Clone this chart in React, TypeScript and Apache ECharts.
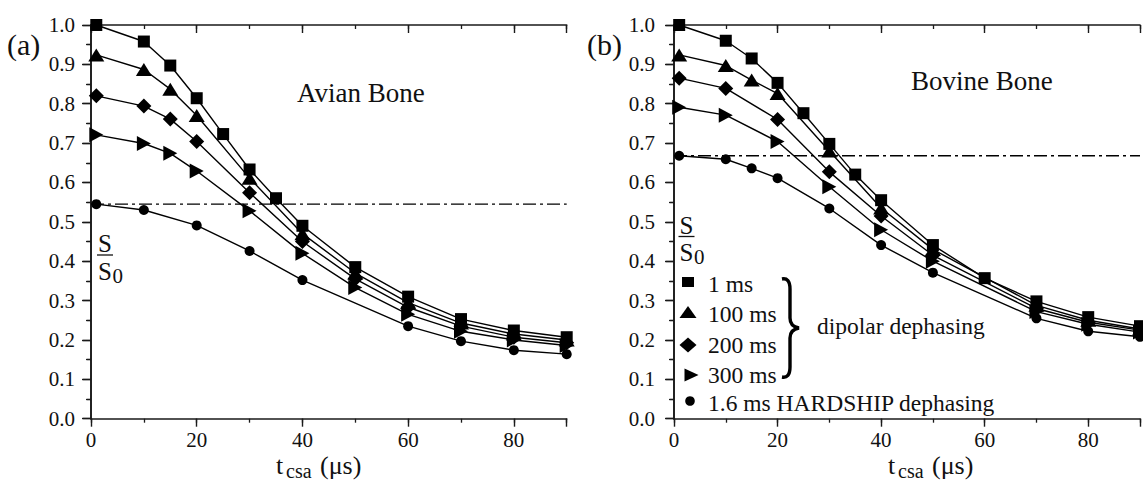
import React, { useEffect, useRef } from "react";
import * as echarts from "echarts";

// ---------- Data ----------
// Panel (a) Avian Bone
const aSqX = [1, 10, 15, 20, 25, 30, 35, 40, 50, 60, 70, 80, 90];
const aSqY = [1.0, 0.958, 0.897, 0.814, 0.723, 0.633, 0.56, 0.49, 0.385, 0.31, 0.253, 0.224, 0.207];
const aTriX = [1, 10, 15, 20, 30, 40, 50, 60, 70, 80, 90];
const aTriY = [0.924, 0.887, 0.837, 0.77, 0.611, 0.47, 0.37, 0.295, 0.243, 0.215, 0.2];
const aDiaX = [1, 10, 15, 20, 30, 40, 50, 60, 70, 80, 90];
const aDiaY = [0.82, 0.794, 0.761, 0.704, 0.574, 0.45, 0.355, 0.283, 0.235, 0.207, 0.193];
const aRtX = [1, 10, 15, 20, 30, 40, 50, 60, 70, 80, 90];
const aRtY = [0.721, 0.699, 0.674, 0.629, 0.528, 0.42, 0.333, 0.265, 0.222, 0.2, 0.186];
const aCirX = [1, 10, 20, 30, 40, 60, 70, 80, 90];
const aCirY = [0.545, 0.53, 0.491, 0.426, 0.352, 0.235, 0.197, 0.174, 0.164];
const aRefLevel = 0.545;

// Panel (b) Bovine Bone
const bSqX = [1, 10, 15, 20, 25, 30, 35, 40, 50, 60, 70, 80, 90];
const bSqY = [1.0, 0.96, 0.915, 0.853, 0.776, 0.698, 0.62, 0.555, 0.441, 0.357, 0.298, 0.258, 0.235];
const bTriX = [1, 10, 15, 20, 30, 40, 50, 70, 80, 90];
const bTriY = [0.924, 0.897, 0.86, 0.826, 0.68, 0.535, 0.43, 0.288, 0.25, 0.228];
const bDiaX = [1, 10, 20, 30, 40, 50, 70, 80, 90];
const bDiaY = [0.865, 0.839, 0.76, 0.627, 0.515, 0.415, 0.28, 0.245, 0.225];
const bRtX = [1, 10, 20, 30, 40, 50, 70, 80, 90];
const bRtY = [0.791, 0.771, 0.704, 0.589, 0.48, 0.4, 0.272, 0.24, 0.22];
const bCirX = [1, 10, 15, 20, 30, 40, 50, 70, 80, 90];
const bCirY = [0.668, 0.659, 0.636, 0.611, 0.534, 0.441, 0.371, 0.255, 0.222, 0.208];
const bRefLevel = 0.668;

const xTickLabels = [0, 20, 40, 60, 80];
const legendLabels = ["1 ms", "100 ms", "200 ms", "300 ms", "1.6 ms HARDSHIP dephasing"];

// ---------- Helpers ----------
const FONT = "Liberation Serif";
const INK = "#111";

const pairs = (xs: number[], ys: number[]) => xs.map((x, i) => [x, ys[i]]);

const markerStyles = {
  sq: { symbol: "rect", symbolSize: [12, 12], symbolRotate: 0 },
  tri: { symbol: "triangle", symbolSize: [16, 13], symbolRotate: 0 },
  dia: { symbol: "diamond", symbolSize: [15, 15], symbolRotate: 0 },
  rt: { symbol: "triangle", symbolSize: [15, 14], symbolRotate: -90 },
  cir: { symbol: "circle", symbolSize: 10, symbolRotate: 0 },
};

function lineSeries(xs: number[], ys: number[], kind: keyof typeof markerStyles, xi: number, yi: number) {
  const m = markerStyles[kind];
  return {
    type: "line",
    xAxisIndex: xi,
    yAxisIndex: yi,
    data: pairs(xs, ys),
    symbol: m.symbol,
    symbolSize: m.symbolSize,
    symbolRotate: m.symbolRotate,
    showSymbol: true,
    clip: false,
    itemStyle: { color: "#000" },
    lineStyle: { color: "#000", width: 1.4 },
    z: 3,
  };
}

function refSeries(level: number, xi: number, yi: number) {
  return {
    type: "line",
    xAxisIndex: xi,
    yAxisIndex: yi,
    data: [
      [0, level],
      [90, level],
    ],
    symbol: "none",
    lineStyle: { color: "#000", width: 1.4, type: [13, 4, 3, 4] },
    z: 2,
  };
}

const axisLine = { show: true, lineStyle: { color: "#1a1a1a", width: 1.6 } };

function xAxes(gridIndex: number) {
  const base = { type: "value", gridIndex, min: 0, max: 90, splitLine: { show: false } };
  return [
    {
      ...base,
      position: "bottom",
      interval: 20,
      axisLine,
      axisTick: { show: true, inside: false, length: 8, lineStyle: { color: "#1a1a1a", width: 1.4 } },
      axisLabel: {
        show: true,
        margin: 11,
        fontFamily: FONT,
        fontSize: 21,
        color: INK,
        formatter: (v: number) => (xTickLabels.includes(v) ? String(v) : ""),
      },
    },
    {
      ...base,
      position: "bottom",
      interval: 10,
      axisLine: { show: false },
      axisTick: { show: true, inside: false, length: 4, lineStyle: { color: "#1a1a1a", width: 1.3 } },
      axisLabel: { show: false },
    },
    {
      ...base,
      position: "top",
      interval: 20,
      axisLine,
      axisTick: { show: true, inside: true, length: 8, lineStyle: { color: "#1a1a1a", width: 1.4 } },
      axisLabel: { show: false },
    },
    {
      ...base,
      position: "top",
      interval: 10,
      axisLine: { show: false },
      axisTick: { show: true, inside: true, length: 4, lineStyle: { color: "#1a1a1a", width: 1.3 } },
      axisLabel: { show: false },
    },
  ];
}

function yAxes(gridIndex: number, labelMargin: number) {
  const base = { type: "value", gridIndex, min: 0, max: 1, interval: 0.1, splitLine: { show: false } };
  return [
    {
      ...base,
      position: "left",
      axisLine,
      axisTick: { show: true, inside: false, length: 9, lineStyle: { color: "#1a1a1a", width: 1.4 } },
      minorTick: { show: true, splitNumber: 2, length: 5, lineStyle: { color: "#1a1a1a", width: 1.3 } },
      axisLabel: {
        show: true,
        margin: labelMargin,
        fontFamily: FONT,
        fontSize: 21,
        color: INK,
        formatter: (v: number) => v.toFixed(1),
      },
    },
    {
      ...base,
      position: "right",
      axisLine,
      axisTick: { show: true, inside: true, length: 8, lineStyle: { color: "#1a1a1a", width: 1.4 } },
      minorTick: { show: true, splitNumber: 2, length: 4, lineStyle: { color: "#1a1a1a", width: 1.3 } },
      axisLabel: { show: false },
    },
  ];
}

function txt(text: string, x: number, y: number, fontSize: number, align = "left") {
  return {
    type: "text",
    x,
    y,
    z: 10,
    style: { text, fontFamily: FONT, fontSize, fill: INK, align, verticalAlign: "middle" },
  };
}

function xTitle(left: number, y: number) {
  return [txt("t", left, y, 26), txt("csa", left + 10, y + 6, 20), txt("(\u03bcs)", left + 44, y, 26)];
}

function fraction(cx: number, sY: number, barY: number, s0Y: number) {
  return [
    txt("S", cx, sY, 25, "center"),
    {
      type: "line",
      z: 10,
      shape: { x1: cx - 8, y1: barY, x2: cx + 8, y2: barY },
      style: { stroke: INK, lineWidth: 1.3 },
    },
    txt("S", cx, s0Y, 25, "center"),
    txt("0", cx + 7.5, s0Y + 5, 21, "left"),
  ];
}

const BRACE_D =
  "M0,1 C5,0 8,3 8,11 L8,40 C8,46 11,49 17,50 C11,51 8,54 8,60 L8,89 C8,97 5,100 0,99";

export default function App() {
  const ref = useRef<HTMLDivElement>(null);

  useEffect(() => {
    if (!ref.current) return;
    try {
      echarts.graphic.registerShape("brace", echarts.graphic.extendPath(BRACE_D, {}));
    } catch (e) {
      /* already registered */
    }
    const chart = echarts.init(ref.current, undefined, { renderer: "svg" });

    const legendX = 688;
    const legendRows = [282, 312, 345, 375, 401];
    const legendTextY = [283.5, 314, 344.5, 374.5, 403];

    const graphic: any[] = [
      txt("(a)", 7, 44, 30),
      txt("(b)", 587, 44, 30),
      txt("Avian Bone", 297, 93, 27),
      txt("Bovine Bone", 911, 80.5, 27),
      ...xTitle(276, 465),
      ...xTitle(888, 465),
      ...fraction(105, 243, 255, 271),
      ...fraction(686.5, 225, 236.5, 252),
      // legend markers
      {
        type: "rect",
        z: 10,
        shape: { x: legendX - 6, y: legendRows[0] - 5, width: 12, height: 10 },
        style: { fill: "#000" },
      },
      {
        type: "polygon",
        z: 10,
        shape: {
          points: [
            [legendX - 8.5, legendRows[1] + 6],
            [legendX + 8.5, legendRows[1] + 6],
            [legendX, legendRows[1] - 6],
          ],
        },
        style: { fill: "#000" },
      },
      {
        type: "polygon",
        z: 10,
        shape: {
          points: [
            [legendX - 8.5, legendRows[2]],
            [legendX, legendRows[2] - 7.5],
            [legendX + 8.5, legendRows[2]],
            [legendX, legendRows[2] + 7.5],
          ],
        },
        style: { fill: "#000" },
      },
      {
        type: "polygon",
        z: 10,
        shape: {
          points: [
            [legendX - 3.5, legendRows[3] - 6.5],
            [legendX + 10.5, legendRows[3]],
            [legendX - 3.5, legendRows[3] + 6.5],
          ],
        },
        style: { fill: "#000" },
      },
      {
        type: "circle",
        z: 10,
        shape: { cx: legendX + 2, cy: legendRows[4], r: 4.8 },
        style: { fill: "#000" },
      },
      ...legendLabels.map((l, i) => txt(l, 708, legendTextY[i], 23.5)),
      {
        type: "brace",
        z: 10,
        x: 782,
        y: 278,
        scaleX: 1,
        scaleY: 1,
        style: { stroke: "#000", fill: "none", lineWidth: 3.4 },
      },
      txt("dipolar dephasing", 817, 326, 23.5),
    ];

    chart.setOption({
      animation: false,
      backgroundColor: "#fff",
      textStyle: { fontFamily: FONT },
      grid: [
        { left: 91, top: 25, width: 475.7, height: 393.7 },
        { left: 674, top: 25, width: 475.5, height: 393.7 },
      ],
      xAxis: [...xAxes(0), ...xAxes(1)],
      yAxis: [...yAxes(0, 16), ...yAxes(1, 19)],
      series: [
        refSeries(aRefLevel, 0, 0),
        lineSeries(aSqX, aSqY, "sq", 0, 0),
        lineSeries(aTriX, aTriY, "tri", 0, 0),
        lineSeries(aDiaX, aDiaY, "dia", 0, 0),
        lineSeries(aRtX, aRtY, "rt", 0, 0),
        lineSeries(aCirX, aCirY, "cir", 0, 0),
        refSeries(bRefLevel, 4, 2),
        lineSeries(bSqX, bSqY, "sq", 4, 2),
        lineSeries(bTriX, bTriY, "tri", 4, 2),
        lineSeries(bDiaX, bDiaY, "dia", 4, 2),
        lineSeries(bRtX, bRtY, "rt", 4, 2),
        lineSeries(bCirX, bCirY, "cir", 4, 2),
      ],
      graphic,
    });

    return () => chart.dispose();
  }, []);

  return (
    <div
      ref={ref}
      style={{ position: "absolute", left: 0, top: 0, width: 1143, height: 481, background: "#fff" }}
    />
  );
}
